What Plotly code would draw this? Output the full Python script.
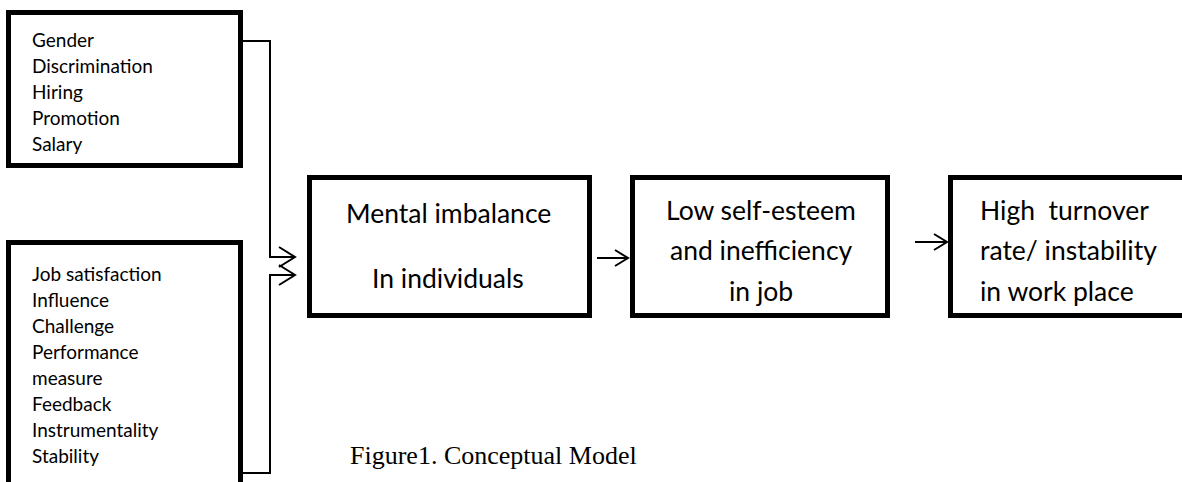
import plotly.graph_objects as go

# ---- content ----
box1_items = ["Gender", "Discrimination", "Hiring", "Promotion", "Salary"]
box2_items = ["Job satisfaction", "Influence", "Challenge", "Performance",
              "measure", "Feedback", "Instrumentality", "Stability"]
mental_lines = ["Mental imbalance", "In individuals"]
low_lines = ["Low self-esteem", "and inefficiency", "in job"]
high_lines = ["High  turnover", "rate/ instability", "in work place"]
caption = "Figure1. Conceptual Model"

# ---- layout geometry (pixels) ----
W, H = 1182, 482
boxes = [  # x0, y0, x1, y1
    (8.5, 12.5, 240.5, 165.5),
    (8.5, 242.5, 240.5, 495),
    (309.5, 177.5, 589.5, 315.5),
    (632.5, 177.5, 887.5, 315.5),
    (950.5, 177.5, 1200, 315.5),
]

fig = go.Figure()
shapes = []
for (x0, y0, x1, y1) in boxes:
    shapes.append(dict(type="rect", xref="x", yref="y", x0=x0, y0=y0, x1=x1, y1=y1,
                       line=dict(color="black", width=5), fillcolor="rgba(0,0,0,0)"))

thin = dict(color="black", width=2)
paths = [
    "M 243 41 H 270 V 257 H 294",
    "M 243 473 H 270 V 275 H 294",
    "M 279 247 L 295 257 L 279 267",
    "M 279 265 L 295 275 L 279 285",
    "M 597 258 H 627",
    "M 615 250 L 628 258 L 615 266",
    "M 915 242 H 946",
    "M 934 234 L 947 242 L 934 250",
]
for p in paths:
    shapes.append(dict(type="path", xref="x", yref="y", path=p, line=thin))

ann = []
font_small = dict(family="Lato", size=19, color="black")
for i, t in enumerate(box1_items):
    ann.append(dict(x=30, y=39 + i * 26.2, text=t, xanchor="left", yanchor="middle",
                    showarrow=False, font=font_small))
for i, t in enumerate(box2_items):
    ann.append(dict(x=30, y=273 + i * 26.1, text=t, xanchor="left", yanchor="middle",
                    showarrow=False, font=font_small))

font_big = dict(family="Lato", size=26.5, color="black")
for t, y in zip(mental_lines, [213, 278]):
    ann.append(dict(x=448, y=y, text=t, xanchor="center", yanchor="middle",
                    showarrow=False, font=font_big))
for t, y in zip(low_lines, [210, 250, 291]):
    ann.append(dict(x=761, y=y, text=t, xanchor="center", yanchor="middle",
                    showarrow=False, font=font_big))
for t, y in zip(high_lines, [210, 250, 291]):
    ann.append(dict(x=978, y=y, text=t.replace("  ", "&nbsp; "), xanchor="left", yanchor="middle",
                    showarrow=False, font=font_big))

ann.append(dict(x=348, y=455, text=caption, xanchor="left", yanchor="middle",
                showarrow=False, font=dict(family="Liberation Serif", size=26, color="black")))

fig.update_layout(
    width=W, height=H, margin=dict(l=0, r=0, t=0, b=0),
    paper_bgcolor="white", plot_bgcolor="white",
    xaxis=dict(range=[0, W], visible=False, fixedrange=True),
    yaxis=dict(range=[H, 0], visible=False, fixedrange=True),
    shapes=shapes, annotations=ann, showlegend=False,
)
fig.write_html("out.html", config={"displayModeBar": False},
               post_script="document.body.style.margin='0';document.body.style.overflow='hidden';")
